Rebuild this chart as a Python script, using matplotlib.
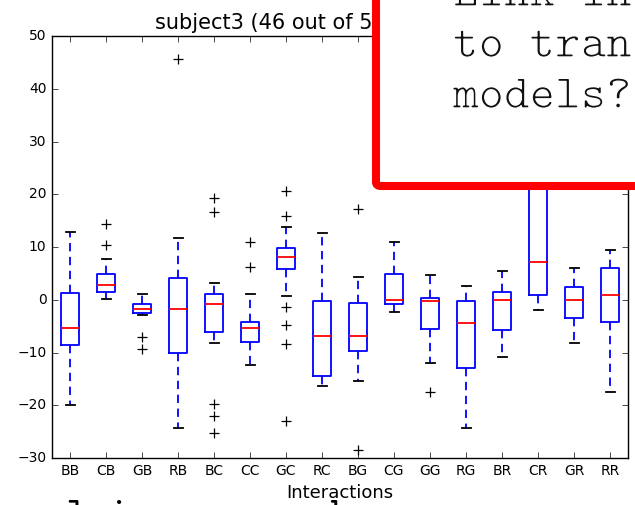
import matplotlib
matplotlib.use('Agg')
import matplotlib.pyplot as plt
import matplotlib.patheffects as pe
from matplotlib.patches import FancyBboxPatch

# interaction types on the x axis
labels = ['BB', 'CB', 'GB', 'RB', 'BC', 'CC', 'GC', 'RC',
          'BG', 'CG', 'GG', 'RG', 'BR', 'CR', 'GR', 'RR']

# box statistics per interaction
med = [-5.4, 2.85, -1.7, -1.7, -0.8, -5.4, 8.1, -6.9,
       -6.9, 0.0, -0.2, -4.5, 0.0, 7.2, 0.0, 0.9]
q1 = [-8.5, 1.4, -2.6, -10.0, -6.2, -8.0, 5.8, -14.4,
      -9.7, -0.9, -5.5, -12.9, -5.7, 0.9, -3.4, -4.3]
q3 = [1.2, 4.9, -0.9, 4.05, 1.15, -4.2, 9.8, -0.2,
      -0.6, 4.9, 0.4, -0.2, 1.5, 26.0, 2.35, 6.1]
whislo = [-20.0, 0.1, -2.8, -24.3, -8.2, -12.3, 0.65, -16.4,
          -15.4, -2.3, -12.0, -24.3, -10.9, -2.0, -8.2, -17.5]
whishi = [12.9, 7.8, 1.15, 11.8, 3.2, 1.15, 13.8, 12.7,
          4.3, 10.9, 4.6, 2.6, 5.45, 38.0, 6.1, 9.5]
fliers = [[], [14.4, 10.3], [-7.1, -9.4], [45.6],
          [19.2, 16.6, -19.8, -22.0, -25.2], [10.9, 6.3],
          [20.7, 15.9, -1.3, -4.8, -8.3, -22.9], [],
          [17.2, -28.4], [], [-17.5], [], [], [], [], []]

yticks = [-30, -20, -10, 0, 10, 20, 30, 40, 50]

plt.style.use('classic')

fig = plt.figure(figsize=(6.35, 5.05), dpi=100, facecolor='white')
ax = fig.add_axes([52 / 635, 1 - 458 / 505, 576 / 635, 422 / 505])
ax.set_facecolor('white')

stats = []
for i in range(len(labels)):
    stats.append(dict(label=labels[i], med=med[i], q1=q1[i], q3=q3[i],
                      whislo=whislo[i], whishi=whishi[i], fliers=fliers[i]))

ax.bxp(stats, widths=0.5,
       boxprops=dict(color='blue', linewidth=1.3),
       whiskerprops=dict(color='blue', linewidth=1.3, linestyle=(0, (6, 4))),
       capprops=dict(color='black', linewidth=1.3),
       medianprops=dict(color='red', linewidth=1.3),
       flierprops=dict(marker='+', markeredgecolor='black', markersize=7,
                       markeredgewidth=0.9, linestyle='none'))

ax.set_xlim(0.5, 16.5)
ax.set_ylim(-30, 50)
ax.set_yticks(yticks)
ax.tick_params(labelsize=10)
ax.set_xlabel('Interactions', fontsize=13)
ax.set_title('subject3 (46 out of 52 interactions)', fontsize=15)

# callout box on top of the plot
box = FancyBboxPatch((376 / 635, 1 - 186 / 505), 0.5, 0.5,
                     boxstyle='round,pad=0,rounding_size=0.008',
                     facecolor='white', edgecolor='red', linewidth=5.8,
                     transform=fig.transFigure, zorder=5)
fig.add_artist(box)

# thin the typewriter strokes a little
thin = [pe.Stroke(linewidth=1.0, foreground='white')]

note = ['Link interactions', 'to transfer', 'models?']
for k, line in enumerate(note):
    fig.text(453 / 635, 1 - (6 + 51 * k) / 505, line, family='cmtt10',
             fontsize=35, ha='left', va='baseline', color='#111111',
             zorder=6, path_effects=thin)

fig.text(3 / 635, 1 - 525 / 505, 'explain more and', family='cmtt10',
         fontsize=29, ha='left', va='baseline', color='black', zorder=6)

fig.savefig('out.png', dpi=100, facecolor='white')
